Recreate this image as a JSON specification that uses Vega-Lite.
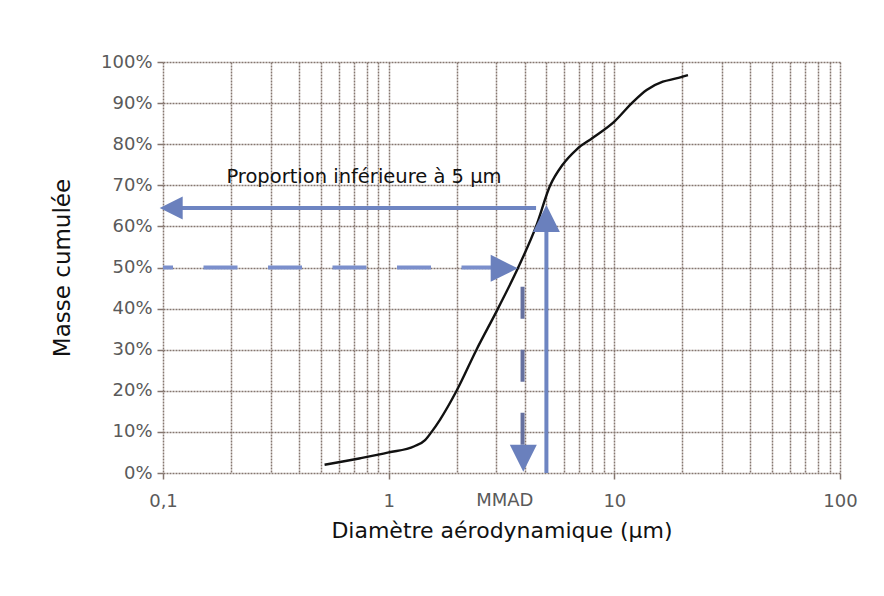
{
  "$schema": "https://vega.github.io/schema/vega-lite/v6.json",
  "width": 677,
  "height": 411,
  "autosize": {"type": "none"},
  "padding": {"left": 163, "top": 62, "right": 44, "bottom": 123},
  "background": "white",
  "config": {
    "view": {"stroke": null},
    "font": "DejaVu Sans",
    "axis": {
      "labelFont": "DejaVu Sans",
      "titleFont": "DejaVu Sans",
      "labelColor": "#5a5a5a",
      "titleColor": "#111111",
      "titleFontWeight": "normal",
      "domain": false,
      "gridColor": "#85766f",
      "gridDash": [2, 1],
      "gridWidth": 1.5,
      "gridOpacity": 1,
      "tickColor": "#85766f",
      "tickWidth": 1.5,
      "tickSize": 6
    }
  },
  "layer": [
    {
      "data": {"values": [
        {"d": 0.52, "m": 0.02},
        {"d": 0.75, "m": 0.036},
        {"d": 1.0, "m": 0.05},
        {"d": 1.3, "m": 0.065},
        {"d": 1.45, "m": 0.08},
        {"d": 1.55, "m": 0.10},
        {"d": 1.69, "m": 0.13},
        {"d": 2.0, "m": 0.20},
        {"d": 2.45, "m": 0.30},
        {"d": 3.05, "m": 0.40},
        {"d": 3.75, "m": 0.50},
        {"d": 4.5, "m": 0.60},
        {"d": 5.2, "m": 0.70},
        {"d": 5.9, "m": 0.75},
        {"d": 6.8, "m": 0.787},
        {"d": 8.0, "m": 0.815},
        {"d": 10, "m": 0.855},
        {"d": 12.1, "m": 0.903},
        {"d": 13.9, "m": 0.932},
        {"d": 16.4, "m": 0.952},
        {"d": 18.8, "m": 0.96},
        {"d": 21.2, "m": 0.968}
      ]},
      "mark": {"type": "line", "color": "#111111", "strokeWidth": 2.4, "interpolate": "monotone"},
      "encoding": {
        "x": {
          "field": "d", "type": "quantitative",
          "scale": {"type": "log", "domain": [0.1, 100], "nice": false},
          "axis": {
            "title": "Diamètre aérodynamique (µm)",
            "titleFontSize": 22,
            "titlePadding": 10,
            "labelFontSize": 18,
            "labelPadding": 13,
            "labelFlush": false,
            "labelOverlap": false,
            "values": [0.1, 0.2, 0.3, 0.4, 0.5, 0.6, 0.7, 0.8, 0.9, 1, 2, 3, 4, 5, 6, 7, 8, 9, 10, 20, 30, 40, 50, 60, 70, 80, 90, 100],
            "labelExpr": "datum.value == 0.1 ? '0,1' : (datum.value == 1 ? '1' : (datum.value == 10 ? '10' : (datum.value == 100 ? '100' : '')))",
            "tickOpacity": {"condition": {"test": "datum.value == 0.1 || datum.value == 1 || datum.value == 10 || datum.value == 100", "value": 1}, "value": 0}
          }
        },
        "y": {
          "field": "m", "type": "quantitative",
          "scale": {"domain": [0, 1], "nice": false},
          "axis": {
            "title": "Masse cumulée",
            "titleFontSize": 23,
            "titlePadding": 26,
            "labelFontSize": 18,
            "labelPadding": 5,
            "format": ".0%",
            "values": [0, 0.1, 0.2, 0.3, 0.4, 0.5, 0.6, 0.7, 0.8, 0.9, 1]
          }
        }
      }
    },
    {
      "data": {"values": [{"x": 0.11, "x2": 4.5, "y": 0.645}]},
      "mark": {"type": "rule", "color": "#6e85c2", "strokeWidth": 4},
      "encoding": {
        "x": {"field": "x", "type": "quantitative"},
        "x2": {"field": "x2"},
        "y": {"field": "y", "type": "quantitative"}
      }
    },
    {
      "data": {"values": [{"x": 5, "y": 0, "y2": 0.63}]},
      "mark": {"type": "rule", "color": "#6e85c2", "strokeWidth": 4},
      "encoding": {
        "x": {"field": "x", "type": "quantitative"},
        "y": {"field": "y", "type": "quantitative"},
        "y2": {"field": "y2"}
      }
    },
    {
      "data": {"values": [{"x": 0.1, "x2": 2.86, "y": 0.5}]},
      "mark": {"type": "rule", "color": "#7b8fcc", "strokeWidth": 4, "strokeDash": [34, 30.5], "strokeDashOffset": 24},
      "encoding": {
        "x": {"field": "x", "type": "quantitative"},
        "x2": {"field": "x2"},
        "y": {"field": "y", "type": "quantitative"}
      }
    },
    {
      "data": {"values": [{"x": 3.92, "y": 0.453, "y2": 0.064}]},
      "mark": {"type": "rule", "color": "#65709f", "strokeWidth": 4, "strokeDash": [32, 31]},
      "encoding": {
        "x": {"field": "x", "type": "quantitative"},
        "y": {"field": "y", "type": "quantitative"},
        "y2": {"field": "y2"}
      }
    },
    {
      "data": {"values": [{"x": 0.0967, "y": 0.645}]},
      "mark": {"type": "point", "shape": "M0,0L2,-1L2,1Z", "filled": true, "opacity": 1, "color": "#6a80bd", "size": 529},
      "encoding": {
        "x": {"field": "x", "type": "quantitative"},
        "y": {"field": "y", "type": "quantitative"}
      }
    },
    {
      "data": {"values": [{"x": 5, "y": 0.652}]},
      "mark": {"type": "point", "shape": "M0,0L-1,2L1,2Z", "filled": true, "opacity": 1, "color": "#6a80bd", "size": 729},
      "encoding": {
        "x": {"field": "x", "type": "quantitative"},
        "y": {"field": "y", "type": "quantitative"}
      }
    },
    {
      "data": {"values": [{"x": 3.73, "y": 0.498}]},
      "mark": {"type": "point", "shape": "M0,0L-2,-1L-2,1Z", "filled": true, "opacity": 1, "color": "#6a80bd", "size": 729},
      "encoding": {
        "x": {"field": "x", "type": "quantitative"},
        "y": {"field": "y", "type": "quantitative"}
      }
    },
    {
      "data": {"values": [{"x": 3.95, "y": 0.003}]},
      "mark": {"type": "point", "shape": "M0,0L-1,-2L1,-2Z", "filled": true, "opacity": 1, "color": "#6a80bd", "size": 729},
      "encoding": {
        "x": {"field": "x", "type": "quantitative"},
        "y": {"field": "y", "type": "quantitative"}
      }
    },
    {
      "data": {"values": [{"x": 0.191, "y": 0.705, "t": "Proportion inférieure à 5 µm"}]},
      "mark": {"type": "text", "align": "left", "baseline": "alphabetic", "fontSize": 19.5, "color": "#111111", "font": "DejaVu Sans"},
      "encoding": {
        "x": {"field": "x", "type": "quantitative"},
        "y": {"field": "y", "type": "quantitative"},
        "text": {"field": "t"}
      }
    },
    {
      "data": {"values": [{"x": 3.27, "y": -0.0803, "t": "MMAD"}]},
      "mark": {"type": "text", "align": "center", "baseline": "alphabetic", "fontSize": 18, "color": "#5a5a5a", "font": "DejaVu Sans"},
      "encoding": {
        "x": {"field": "x", "type": "quantitative"},
        "y": {"field": "y", "type": "quantitative"},
        "text": {"field": "t"}
      }
    }
  ]
}
